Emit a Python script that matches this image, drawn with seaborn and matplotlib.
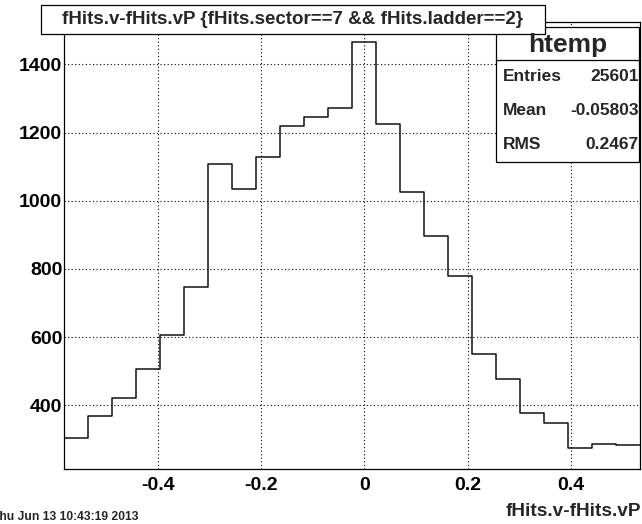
# =============================================================================
# fHits.v - fHits.vP residuals, sector 7 / ladder 2 (ROOT "htemp" histogram)
# =============================================================================
import matplotlib
matplotlib.use("Agg")
import matplotlib.pyplot as plt
from matplotlib.patches import Rectangle
from matplotlib.lines import Line2D
from matplotlib.ticker import MultipleLocator
import numpy as np
import pandas as pd
import seaborn as sns


# --- Data --------------------------------------------------------------------
bin_counts = [304, 370, 423, 507, 606, 746, 1108, 1033, 1127, 1218, 1245, 1273,
              1466, 1225, 1027, 898, 780, 552, 477, 378, 349, 275, 286, 283]
x_range = (-0.581, 0.532)

title_text = "fHits.v-fHits.vP {fHits.sector==7 && fHits.ladder==2}"
x_title = "fHits.v-fHits.vP"
date_text = "Thu Jun 13 10:43:19 2013"
stats_name = "htemp"
stats_labels = ["Entries", "Mean", "RMS"]
stats_values = ["25601", "-0.05803", "0.2467"]

edges = np.linspace(x_range[0], x_range[1], len(bin_counts) + 1)
hist_df = pd.DataFrame({
    "x": (edges[:-1] + edges[1:]) / 2,
    "count": bin_counts,
})

# ROOT-style y range: 5% margin above the max, then below the min
y_hi = max(bin_counts) + 0.05 * (max(bin_counts) - min(bin_counts))
y_lo = min(bin_counts) - 0.05 * (y_hi - min(bin_counts))


# --- Figure setup --------------------------------------------------------------
W, H = 642, 524
sns.set_theme(style="white")
plt.rcParams["font.family"] = ["Liberation Sans", "DejaVu Sans"]
plt.rcParams["font.weight"] = "bold"

fig = plt.figure(figsize=(W / 100, H / 100), dpi=100)


def fx(px):
    return px / W


def fy(py):
    return 1 - py / H


ax_left, ax_right, ax_top, ax_bottom = 64, 639.5, 21.5, 469.3
ax = fig.add_axes([fx(ax_left), fy(ax_bottom),
                   (ax_right - ax_left) / W, (ax_bottom - ax_top) / H])

sns.histplot(data=hist_df, x="x", weights="count",
             bins=len(bin_counts), binrange=x_range,
             element="step", fill=False, color="#111111", linewidth=1.1, ax=ax)

ax.set_xlim(*x_range)
ax.set_ylim(y_lo, y_hi)
ax.set_xlabel("")
ax.set_ylabel("")

# axis ticks, grid
ax.xaxis.set_major_locator(MultipleLocator(0.2))
ax.xaxis.set_minor_locator(MultipleLocator(0.05))
ax.yaxis.set_major_locator(MultipleLocator(200))
ax.yaxis.set_minor_locator(MultipleLocator(50))
xt = [t for t in ax.get_xticks() if x_range[0] <= t <= x_range[1]]
ax.set_xticks(xt)
ax.set_xticklabels(["0" if abs(v) < 1e-9 else f"{v:.1f}" for v in xt])
ax.set_xlim(*x_range)
ax.tick_params(axis="both", which="both", direction="in", colors="black",
               labelsize=14, top=False, right=False, width=0.9)
ax.tick_params(axis="x", which="major", length=9.5, pad=5.5)
ax.tick_params(axis="x", which="minor", length=5.8)
ax.tick_params(axis="y", which="major", length=11.5, pad=1.2)
ax.tick_params(axis="y", which="minor", length=5.8)
for lab in ax.get_xticklabels() + ax.get_yticklabels():
    lab.set_fontweight("bold")
ax.grid(True, which="major", color="black", linestyle=(0, (1, 2.2)), linewidth=0.8)
for sp in ax.spines.values():
    sp.set_color("black")
    sp.set_linewidth(0.9)


# --- Title box ---------------------------------------------------------------
fig.add_artist(Rectangle((fx(41), fy(34)), (545.5 - 41) / W, (34 - 5) / H,
                         transform=fig.transFigure, facecolor="white",
                         edgecolor="black", linewidth=0.9, zorder=5))
fig.text(fx(293), fy(19.5), title_text, ha="center", va="center",
         fontsize=13.5, fontweight="bold", zorder=6)


# --- Stats box -----------------------------------------------------------------
sb_l, sb_r, sb_t, sb_b, sb_sep = 496.5, 639.5, 27.3, 161.7, 60
fig.add_artist(Rectangle((fx(sb_l), fy(sb_b)), (sb_r - sb_l) / W, (sb_b - sb_t) / H,
                         transform=fig.transFigure, facecolor="white",
                         edgecolor="black", linewidth=0.9, zorder=4))
fig.add_artist(Line2D([fx(sb_l), fx(sb_r)], [fy(sb_sep), fy(sb_sep)],
                      transform=fig.transFigure, color="black", linewidth=0.9,
                      zorder=4))
fig.text(fx((sb_l + sb_r) / 2), fy((sb_t + sb_sep) / 2 + 1), stats_name,
         ha="center", va="center", fontsize=19, fontweight="bold", zorder=6)
row_h = (sb_b - sb_sep) / len(stats_labels)
for i, (lab, val) in enumerate(zip(stats_labels, stats_values)):
    yc = sb_sep + row_h * (i + 0.5)
    fig.text(fx(502.5), fy(yc), lab, ha="left", va="center",
             fontsize=12.5, fontweight="bold", zorder=6)
    fig.text(fx(639), fy(yc), val, ha="right", va="center",
             fontsize=12.5, fontweight="bold", zorder=6)


# --- Axis title and date stamp ----------------------------------------------
fig.text(fx(641), fy(516.5), x_title, ha="right", va="baseline",
         fontsize=13.7, fontweight="bold")
fig.text(fx(138.5), fy(519.5), date_text, ha="right", va="baseline",
         fontsize=8.7, fontweight="bold")

fig.savefig("out.png", dpi=100)
plt.close(fig)
